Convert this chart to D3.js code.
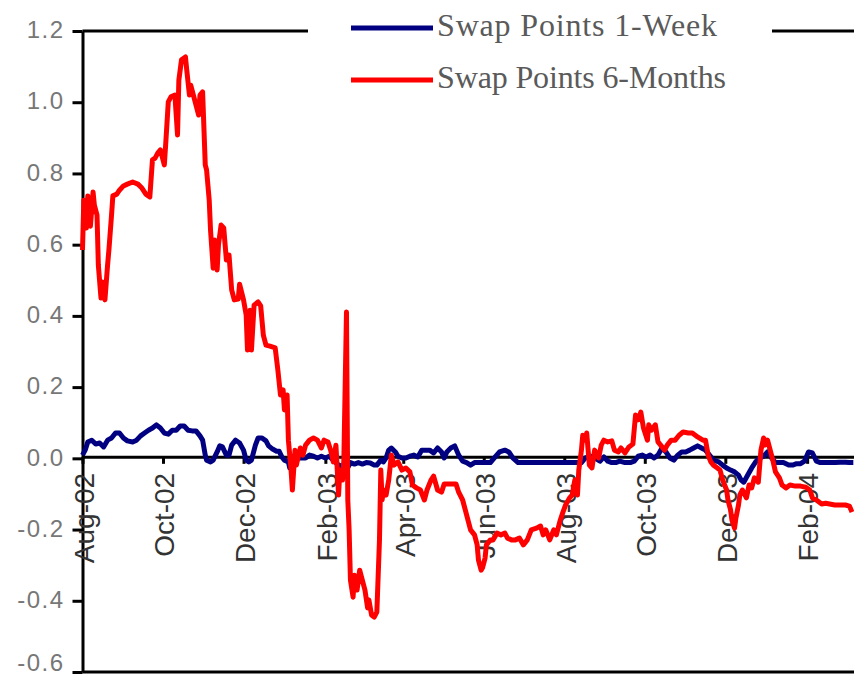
<!DOCTYPE html>
<html>
<head>
<meta charset="utf-8">
<script src="https://cdn.jsdelivr.net/npm/d3@7"></script>
<style>
  html, body { margin: 0; padding: 0; background: #fff; }
  svg { display: block; }
</style>
</head>
<body>
<div id="chart"></div>
<script>
// Swap points, Aug-02 to Mar-04. Days are counted from the first observation.
const startDate = new Date(2002, 7, 1);
const endDate = new Date(2004, 2, 7, 12);

const days1W = [0,2,4,7,10,13,16,19,22,25,28,31,34,38,41,44,47,50,53,56,59,62,65,68,71,74,77,80,83,86,89,91,93,94,97,99,102,104,106,109,111,113,116,119,122,124,126,128,131,133,136,139,141,144,147,149,151,153,156,157,159,162,165,169,172,175,178,181,184,187,190,194,197,200,203,206,209,212,215,218,221,223,226,228,230,232,234,237,239,242,245,248,251,254,257,260,263,266,269,272,274,276,279,282,285,288,291,294,297,301,305,309,312,316,320,323,326,330,334,337,341,345,349,353,356,360,364,368,372,375,378,381,385,388,392,395,398,401,404,407,411,415,418,421,424,427,430,433,436,439,442,445,448,451,454,457,460,463,466,469,472,475,478,482,485,488,491,494,497,499,501,504,507,510,513,516,519,522,525,528,531,535,538,541,544,547,550,553,556,559,562,566,570,574,578,581,584];
const swap1W = [0.009,0.023,0.046,0.051,0.040,0.043,0.032,0.051,0.057,0.071,0.071,0.057,0.049,0.046,0.051,0.063,0.071,0.079,0.085,0.094,0.085,0.071,0.068,0.079,0.079,0.091,0.091,0.079,0.077,0.077,0.063,0.051,0.009,-0.005,-0.010,-0.005,0.018,0.035,0.032,0.009,0.009,0.037,0.051,0.043,0.023,-0.005,-0.010,-0.005,0.037,0.057,0.057,0.049,0.035,0.026,0.020,0.020,0.004,-0.005,-0.010,-0.027,0.004,0.006,0.001,0.001,0.009,0.006,0.001,0.006,0.001,0.006,-0.005,-0.019,-0.022,-0.033,-0.012,-0.016,-0.012,-0.016,-0.012,-0.013,-0.019,-0.019,-0.005,-0.010,0.001,0.023,0.029,0.018,0.006,0.001,0.001,0.006,0.009,0.004,0.023,0.023,0.023,0.015,0.029,0.018,0.001,0.018,0.029,0.035,0.009,-0.008,-0.012,-0.019,-0.012,-0.012,-0.012,-0.012,0.001,0.018,0.023,0.018,0.001,-0.012,-0.012,-0.012,-0.012,-0.012,-0.012,-0.012,-0.012,-0.012,-0.012,-0.012,-0.012,-0.012,-0.012,0.001,0.006,0.001,-0.008,0.004,-0.008,-0.012,-0.012,-0.008,-0.012,-0.012,-0.008,0.006,0.009,0.004,0.009,0.001,0.009,0.029,0.018,0.001,-0.005,0.009,0.018,0.018,0.023,0.029,0.035,0.029,0.023,0.009,-0.005,-0.010,-0.019,-0.027,-0.033,-0.038,-0.047,-0.061,-0.067,-0.047,-0.027,-0.010,0.001,0.006,0.018,0.001,-0.012,-0.012,-0.012,-0.019,-0.019,-0.015,-0.015,-0.008,0.018,0.015,-0.008,-0.012,-0.012,-0.012,-0.012,-0.011,-0.011,-0.012,-0.012,-0.012];

const days6M = [0,1,3,4,6,8,9,11,12,14,15,17,19,20,22,23,26,28,31,34,38,42,45,48,51,53,55,57,59,62,63,65,67,70,72,73,75,78,79,81,82,84,86,88,89,91,93,94,96,97,99,100,102,103,105,107,109,111,113,115,118,119,122,124,125,127,128,130,133,135,137,139,142,146,148,150,152,153,155,156,158,159,161,162,165,167,169,172,175,178,181,183,186,188,190,192,194,195,197,198,200,201,202,203,205,206,208,210,213,214,216,217,219,221,223,225,226,227,228,230,232,234,236,239,242,245,248,250,253,256,259,261,264,266,269,272,274,277,280,283,285,288,290,292,294,297,299,300,302,303,305,306,309,311,314,317,320,322,325,328,331,334,337,340,344,347,349,351,354,357,359,362,364,366,369,371,373,375,376,378,379,381,382,384,386,388,391,393,395,398,401,403,406,408,411,414,417,419,421,423,425,428,429,431,434,436,438,441,443,446,449,452,455,459,462,466,470,472,474,476,478,481,483,485,488,489,491,492,494,495,497,498,500,503,505,507,509,512,514,516,517,519,521,523,525,528,530,533,536,540,544,548,551,553,556,560,563,566,570,574,578,581,583];
const swap6M = [0.585,0.725,0.647,0.737,0.652,0.748,0.711,0.683,0.543,0.450,0.495,0.445,0.543,0.585,0.683,0.737,0.742,0.753,0.765,0.770,0.776,0.770,0.759,0.742,0.734,0.838,0.843,0.857,0.866,0.824,0.880,1.001,1.015,1.020,0.908,1.062,1.119,1.127,1.090,1.020,1.048,1.020,0.992,0.964,1.020,1.029,0.824,0.810,0.725,0.641,0.534,0.613,0.529,0.599,0.655,0.647,0.557,0.571,0.473,0.445,0.447,0.489,0.445,0.402,0.304,0.416,0.304,0.430,0.439,0.428,0.346,0.318,0.315,0.310,0.248,0.178,0.192,0.136,0.178,0.051,-0.033,-0.089,0.023,-0.019,0.029,0.009,0.037,0.051,0.057,0.051,0.029,0.051,0.046,0.023,-0.010,0.037,-0.103,-0.033,-0.061,-0.005,0.411,-0.117,-0.201,-0.342,-0.390,-0.328,-0.370,-0.314,-0.356,-0.370,-0.420,-0.398,-0.440,-0.446,-0.432,-0.229,-0.033,-0.117,-0.089,-0.103,-0.061,0.009,-0.019,-0.010,-0.033,-0.027,-0.038,-0.075,-0.083,-0.089,-0.117,-0.089,-0.061,-0.050,-0.089,-0.095,-0.072,-0.072,-0.072,-0.072,-0.095,-0.117,-0.145,-0.173,-0.201,-0.215,-0.243,-0.286,-0.314,-0.308,-0.280,-0.243,-0.229,-0.229,-0.210,-0.215,-0.210,-0.224,-0.229,-0.229,-0.224,-0.243,-0.229,-0.201,-0.196,-0.190,-0.215,-0.201,-0.229,-0.201,-0.215,-0.173,-0.151,-0.131,-0.111,-0.103,-0.061,-0.103,-0.033,0.023,0.065,0.051,0.071,-0.019,-0.027,0.023,0.001,0.037,0.051,0.046,0.049,0.023,0.018,0.029,0.015,0.032,0.040,0.122,0.108,0.130,0.085,0.051,0.094,0.079,0.094,0.046,0.037,0.023,0.037,0.051,0.051,0.065,0.074,0.071,0.071,0.060,0.051,0.051,0.009,-0.010,-0.019,-0.027,-0.033,-0.061,-0.089,-0.117,-0.145,-0.173,-0.196,-0.168,-0.131,-0.103,-0.089,-0.111,-0.075,-0.083,-0.055,-0.067,0.023,0.057,0.037,0.051,0.023,-0.005,-0.038,-0.055,-0.075,-0.083,-0.075,-0.078,-0.078,-0.081,-0.089,-0.111,-0.117,-0.128,-0.126,-0.128,-0.131,-0.131,-0.131,-0.134,-0.151];

const monthTicks = ["2002-08-01","2002-10-01","2002-12-01","2003-02-01","2003-04-01","2003-06-01","2003-08-01","2003-10-01","2003-12-01","2004-02-01"];
const yTicks = [-0.6, -0.4, -0.2, 0.0, 0.2, 0.4, 0.6, 0.8, 1.0, 1.2];
const seriesNames = ["Swap Points 1-Week", "Swap Points 6-Months"];
const seriesColors = ["#000080", "#ff0000"];

const width = 854, height = 677;
const parseDay = d3.timeParse("%Y-%m-%d");

const toSeries = (days, vals) => days.map((d, i) => ({ date: d3.timeDay.offset(startDate, d), value: vals[i] }));
const series = [toSeries(days1W, swap1W), toSeries(days6M, swap6M)];

const svg = d3.select("#chart").append("svg")
    .attr("width", width)
    .attr("height", height);

const x = d3.scaleTime().domain([startDate, endDate]).range([82.5, 854]);
const y = d3.scaleLinear().domain([-0.6, 1.2]).range([672, 31]);

// top and bottom frame lines of the plot area
svg.selectAll(".frame")
    .data([1.2, -0.6])
    .join("line")
    .attr("class", "frame")
    .attr("x1", x.range()[0]).attr("x2", x.range()[1])
    .attr("y1", d => y(d)).attr("y2", d => y(d))
    .attr("stroke", "#000")
    .attr("stroke-width", 3);

// y axis
const yAxis = svg.append("g")
    .attr("transform", `translate(${x.range()[0]},0)`)
    .call(d3.axisLeft(y).tickValues(yTicks).tickSize(10).tickSizeOuter(0).tickPadding(8)
        .tickFormat(d => d.toFixed(1)));
yAxis.select(".domain").attr("stroke-width", 3);
yAxis.selectAll(".tick line").attr("stroke-width", 3);
yAxis.selectAll(".tick text")
    .attr("fill", "#777")
    .attr("y", d => d === -0.6 ? -9 : -1)   // bottom label is pushed up off the edge
    .style("font-family", "'Liberation Sans', Arial, sans-serif")
    .style("font-size", "24px")
    .style("letter-spacing", "1.5px");

// category axis along zero, labels rotated
const xAxis = svg.append("g")
    .attr("transform", `translate(0,${y(0) - 1.5})`)
    .call(d3.axisBottom(x).tickValues(monthTicks.map(parseDay)).tickSize(7).tickSizeOuter(0)
        .tickFormat(d3.timeFormat("%b-%y")));
xAxis.select(".domain").attr("stroke-width", 3);
xAxis.selectAll(".tick line").attr("stroke-width", 3);
xAxis.selectAll(".tick text")
    .attr("transform", "rotate(-90)")
    .attr("text-anchor", "end")
    .attr("x", -16)
    .attr("y", 1)
    .attr("dy", "0.35em")
    .attr("fill", "#333")
    .style("font-family", "'Liberation Sans', Arial, sans-serif")
    .style("font-size", "28px");

// series lines
const line = d3.line()
    .x(d => x(d.date))
    .y(d => y(d.value));

svg.selectAll(".series")
    .data(series)
    .join("path")
    .attr("class", "series")
    .attr("fill", "none")
    .attr("stroke", (d, i) => seriesColors[i])
    .attr("stroke-width", 5)
    .attr("stroke-linejoin", "round")
    .attr("d", line);

// legend box sits over the top frame line
const legend = svg.append("g");
legend.append("rect")
    .attr("x", 308).attr("y", 0)
    .attr("width", 464).attr("height", 96)
    .attr("fill", "#fff");

const items = legend.selectAll(".item")
    .data(seriesNames)
    .join("g")
    .attr("class", "item")
    .attr("transform", (d, i) => `translate(0,${28 + i * 52})`);

items.append("line")
    .attr("x1", 351).attr("x2", 433)
    .attr("stroke", (d, i) => seriesColors[i])
    .attr("stroke-width", 5);

items.append("text")
    .attr("x", 437)
    .attr("y", 8)
    .attr("textLength", (d, i) => [280, 289][i])
    .attr("fill", "#5a5a5a")
    .style("font-family", "'Liberation Serif', 'Times New Roman', serif")
    .style("font-size", "32px")
    .text(d => d);
</script>
</body>
</html>
